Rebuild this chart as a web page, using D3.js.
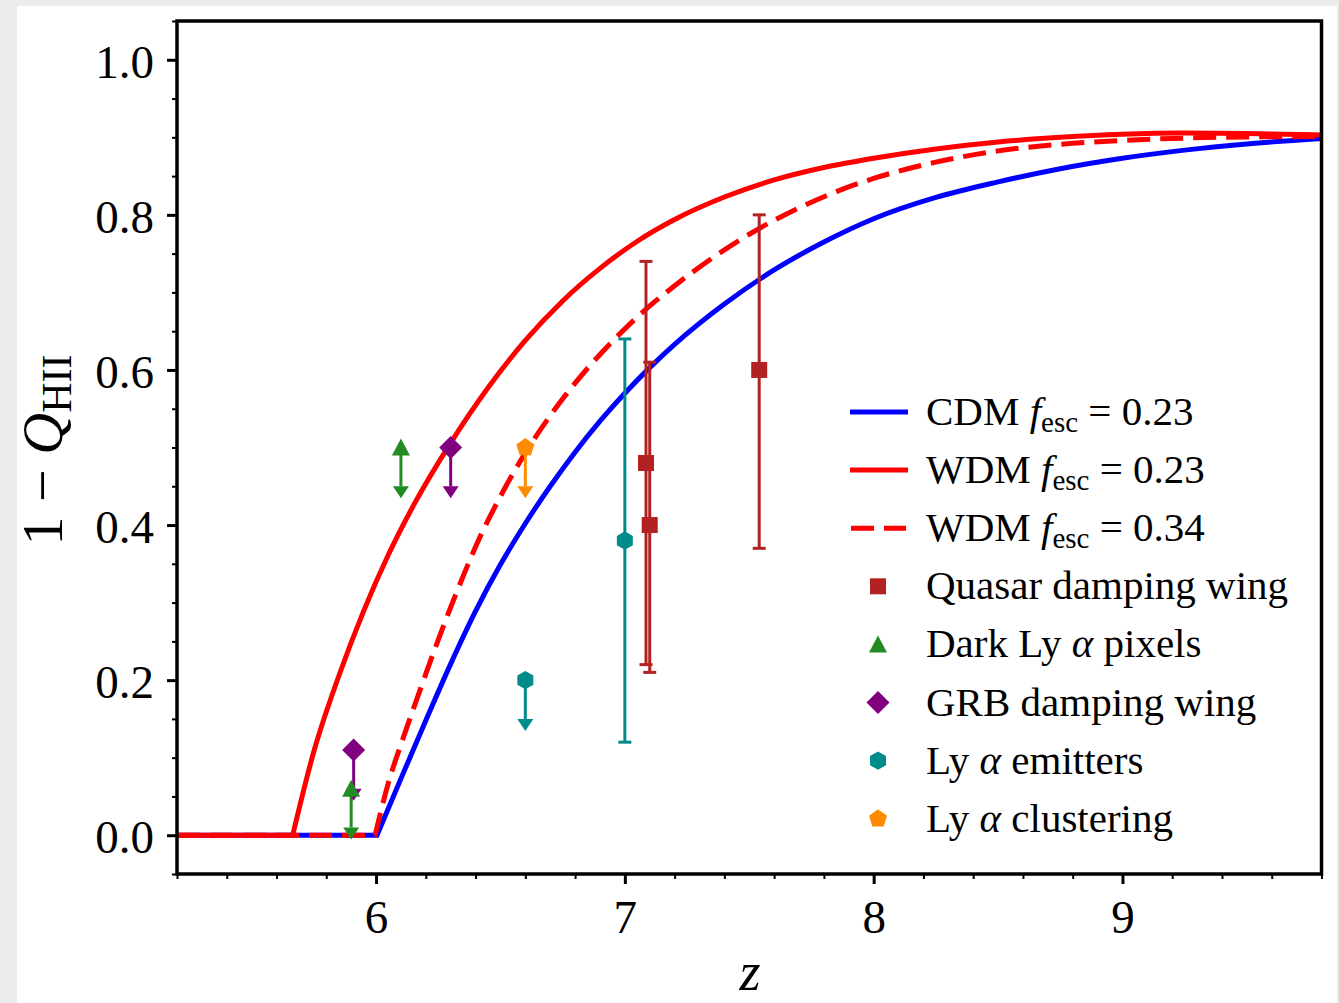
<!DOCTYPE html>
<html><head><meta charset="utf-8">
<script src="https://cdn.jsdelivr.net/npm/d3@7"></script>
<style>
html,body{margin:0;padding:0;background:#ebebeb;}
svg{display:block;}
text{font-family:"Liberation Serif","DejaVu Serif",serif;fill:#000;}
</style></head><body>
<svg id="chart" width="1339" height="1003"></svg>
<script>
// ---- model curves (z, 1-Q_HII) ----
const cdmZ   = [5.2, 6.004, 6.1, 6.2, 6.3, 6.4, 6.5, 6.6, 6.7, 6.8, 6.9, 7.0, 7.1, 7.2, 7.4, 7.6, 7.8, 8.0, 8.25, 8.5, 8.75, 9.0, 9.25, 9.5, 9.8];
const cdmY   = [0, 0, 0.073, 0.148, 0.221, 0.289, 0.349, 0.402, 0.450, 0.494, 0.534, 0.570, 0.603, 0.633, 0.685, 0.729, 0.765, 0.795, 0.8225, 0.8425, 0.8595, 0.873, 0.8835, 0.8915, 0.8985];
const wdm23Z = [5.2, 5.665, 5.75, 5.85, 5.95, 6.05, 6.15, 6.3, 6.45, 6.6, 6.75, 6.9, 7.05, 7.2, 7.4, 7.6, 7.8, 8.0, 8.25, 8.5, 8.75, 9.0, 9.25, 9.5, 9.8];
const wdm23Y = [0, 0, 0.108, 0.205, 0.289, 0.362, 0.425, 0.506, 0.577, 0.638, 0.689, 0.731, 0.766, 0.794, 0.823, 0.845, 0.861, 0.873, 0.885, 0.894, 0.900, 0.904, 0.9055, 0.905, 0.903];
const wdm34Z = [5.2, 5.996, 6.05, 6.1, 6.15, 6.2, 6.25, 6.3, 6.35, 6.4, 6.5, 6.6, 6.7, 6.8, 6.9, 7.0, 7.1, 7.2, 7.35, 7.5, 7.7, 7.85, 8.0, 8.25, 8.5, 8.75, 9.0, 9.25, 9.5, 9.8];
const wdm34Y = [0, 0, 0.068, 0.117, 0.163, 0.208, 0.252, 0.294, 0.334, 0.372, 0.437, 0.493, 0.541, 0.583, 0.620, 0.653, 0.6825, 0.7085, 0.744, 0.775, 0.809, 0.830, 0.847, 0.868, 0.8825, 0.891, 0.896, 0.899, 0.9005, 0.901];

// ---- observational constraints ----
const quasarZ = [7.085, 7.10, 7.54];
const quasarY = [0.48, 0.40, 0.60];
const quasarLo = [0.26, 0.19, 0.23];
const quasarHi = [0.26, 0.21, 0.20];
const darkZ = [5.90, 6.10];
const darkY = [0.06, 0.50];
const grbZ = [5.91, 6.30];
const grbY = [0.11, 0.50];
const laeZ = [7.00, 6.60];
const laeY = [0.38, 0.20];
const laeLo = [0.26, null];
const laeHi = [0.26, null];
const laeUpper = [false, true];
const clusZ = [6.60];
const clusY = [0.50];
const limitLen = 0.05;

// ---- axis ticks ----
const xMajor = [6, 7, 8, 9];
const xTickLabels = ["6", "7", "8", "9"];
const yMajor = [0, 0.2, 0.4, 0.6, 0.8, 1.0];
const yTickLabels = ["0.0", "0.2", "0.4", "0.6", "0.8", "1.0"];

const svg = d3.select('#chart');
svg.append('rect').attr('x', 17).attr('y', 6).attr('width', 1320).attr('height', 1000).attr('fill', '#fff');

const L = 177, R = 1321.5, T = 21, B = 874;
const x = d3.scaleLinear().domain([5.2, 9.8]).range([L, R]);
const y = d3.scaleLinear().domain([-0.05, 1.05]).range([B, T]);

svg.append('clipPath').attr('id', 'clip').append('rect')
  .attr('x', L).attr('y', T).attr('width', R - L).attr('height', B - T);
const plot = svg.append('g').attr('clip-path', 'url(#clip)');

const C_BLUE = '#0000ff', C_RED = '#ff0000';
function drawCurve(zs, ys, color, dash) {
  const pts = zs.map((z, i) => [z, ys[i]]);
  const k = pts.findIndex(p => p[1] > 0);
  const flat = pts.slice(0, k);
  const rise = pts.slice(k - 1);
  const linL = d3.line().x(d => x(d[0])).y(d => y(d[1]));
  const monL = d3.line().x(d => x(d[0])).y(d => y(d[1])).curve(d3.curveMonotoneX);
  const path = linL(flat) + monL(rise).replace(/^M/, 'L');
  plot.append('path').attr('d', path).attr('fill', 'none').attr('stroke', color)
    .attr('stroke-width', 5).attr('stroke-dasharray', dash || null).attr('stroke-linejoin', 'miter');
}
drawCurve(cdmZ, cdmY, C_BLUE);
drawCurve(wdm23Z, wdm23Y, C_RED);
drawCurve(wdm34Z, wdm34Y, C_RED, '23,10');

// marker shapes
function poly(n, r, rot) {
  const p = [];
  for (let i = 0; i < n; i++) {
    const a = rot + i * 2 * Math.PI / n;
    p.push([r * Math.sin(a), -r * Math.cos(a)]);
  }
  return 'M' + p.map(q => q[0].toFixed(2) + ',' + q[1].toFixed(2)).join('L') + 'Z';
}
const shapes = {
  square: 'M-8,-8L8,-8L8,8L-8,8Z',
  triangle: 'M0,-9L9,8L-9,8Z',
  diamond: 'M0,-11.5L11.5,0L0,11.5L-11.5,0Z',
  hexagon: poly(6, 9.2, 0),
  pentagon: poly(5, 9.5, 0)
};
const caret = 'M-8,0L8,0L0,12Z';

const pg = svg.append('g');
function errbar(zv, yv, lo, hi, color) {
  const cx = x(zv);
  pg.append('line').attr('x1', cx).attr('x2', cx).attr('y1', y(yv - lo)).attr('y2', y(yv + hi))
    .attr('stroke', color).attr('stroke-width', 3);
  [yv - lo, yv + hi].forEach(v => pg.append('line').attr('x1', cx - 6.5).attr('x2', cx + 6.5)
    .attr('y1', y(v)).attr('y2', y(v)).attr('stroke', color).attr('stroke-width', 3));
}
function uplim(zv, yv, color) {
  const cx = x(zv);
  pg.append('line').attr('x1', cx).attr('x2', cx).attr('y1', y(yv)).attr('y2', y(yv - limitLen))
    .attr('stroke', color).attr('stroke-width', 3);
  pg.append('path').attr('d', caret).attr('transform', `translate(${cx},${y(yv - limitLen)})`).attr('fill', color);
}
function marker(zv, yv, shape, color) {
  pg.append('path').attr('d', shapes[shape]).attr('transform', `translate(${x(zv)},${y(yv)})`).attr('fill', color);
}
const C_Q = '#b22222', C_G = '#228b22', C_P = '#800080', C_T = '#008b8b', C_O = '#ff8c00';
quasarZ.forEach((z, i) => errbar(z, quasarY[i], quasarLo[i], quasarHi[i], C_Q));
darkZ.forEach((z, i) => uplim(z, darkY[i], C_G));
grbZ.forEach((z, i) => uplim(z, grbY[i], C_P));
laeZ.forEach((z, i) => laeUpper[i] ? uplim(z, laeY[i], C_T) : errbar(z, laeY[i], laeLo[i], laeHi[i], C_T));
clusZ.forEach((z, i) => uplim(z, clusY[i], C_O));
quasarZ.forEach((z, i) => marker(z, quasarY[i], 'square', C_Q));
darkZ.forEach((z, i) => marker(z, darkY[i], 'triangle', C_G));
grbZ.forEach((z, i) => marker(z, grbY[i], 'diamond', C_P));
laeZ.forEach((z, i) => marker(z, laeY[i], 'hexagon', C_T));
clusZ.forEach((z, i) => marker(z, clusY[i], 'pentagon', C_O));

// axes
const minorX = d3.range(24).map(i => +(5.2 + i * 0.2).toFixed(2)).filter(v => !xMajor.includes(v));
const minorY = d3.range(23).map(i => +(-0.05 + i * 0.05).toFixed(2)).filter(v => !yMajor.some(m => Math.abs(m - v) < 1e-6));
const gxm = svg.append('g').attr('transform', `translate(0,${B})`)
  .call(d3.axisBottom(x).tickValues(minorX).tickSize(5).tickFormat(''));
const gx = svg.append('g').attr('transform', `translate(0,${B})`)
  .call(d3.axisBottom(x).tickValues(xMajor).tickSize(10).tickPadding(16).tickFormat((d, i) => xTickLabels[i]));
const gym = svg.append('g').attr('transform', `translate(${L},0)`)
  .call(d3.axisLeft(y).tickValues(minorY).tickSize(5).tickFormat(''));
const gy = svg.append('g').attr('transform', `translate(${L},0)`)
  .call(d3.axisLeft(y).tickValues(yMajor).tickSize(10).tickPadding(13).tickFormat((d, i) => yTickLabels[i]));
[gx, gxm, gy, gym].forEach(g => { g.select('.domain').remove(); g.selectAll('line').attr('stroke', '#000'); });
[gx, gy].forEach(g => { g.selectAll('line').attr('stroke-width', 3); g.selectAll('text').attr('font-size', 47).attr('font-family', '"Liberation Serif",serif').attr('fill', '#000'); });
[gxm, gym].forEach(g => g.selectAll('line').attr('stroke-width', 2));
gy.selectAll('text').attr('dy', '0.37em');

svg.append('rect').attr('x', L).attr('y', T).attr('width', R - L).attr('height', B - T)
  .attr('fill', 'none').attr('stroke', '#000').attr('stroke-width', 3.5);

// axis labels
svg.append('text').attr('x', 750).attr('y', 990).attr('text-anchor', 'middle')
  .attr('font-size', 54).attr('font-style', 'italic').text('z');
const yl = svg.append('text').attr('transform', 'translate(62,450) rotate(-90)')
  .attr('text-anchor', 'middle').attr('font-size', 58);
yl.append('tspan').text('1 − ');
yl.append('tspan').attr('font-style', 'italic').text('Q');
yl.append('tspan').attr('font-size', 42).attr('dy', 9).text('HII');

// legend
const legendLines = [
  {name: 'CDM', fesc: '0.23', color: C_BLUE, dash: null},
  {name: 'WDM', fesc: '0.23', color: C_RED, dash: null},
  {name: 'WDM', fesc: '0.34', color: C_RED, dash: '23,10'}
];
const legendPoints = [
  {parts: [['Quasar damping wing', false]], shape: 'square', color: C_Q},
  {parts: [['Dark Ly ', false], ['α', true], [' pixels', false]], shape: 'triangle', color: C_G},
  {parts: [['GRB damping wing', false]], shape: 'diamond', color: C_P},
  {parts: [['Ly ', false], ['α', true], [' emitters', false]], shape: 'hexagon', color: C_T},
  {parts: [['Ly ', false], ['α', true], [' clustering', false]], shape: 'pentagon', color: C_O}
];
const lg = svg.append('g');
const row0 = 412, rowH = 58.1, lx0 = 850, lx1 = 908, tx = 926;
legendLines.forEach((d, i) => {
  const ry = row0 + i * rowH;
  lg.append('line').attr('x1', d.dash ? 851 : lx0).attr('x2', d.dash ? 906 : lx1).attr('y1', ry).attr('y2', ry)
    .attr('stroke', d.color).attr('stroke-width', 5).attr('stroke-dasharray', d.dash);
  const t = lg.append('text').attr('x', tx).attr('y', ry + 13).attr('font-size', 41);
  t.append('tspan').text(d.name + ' ');
  t.append('tspan').attr('font-style', 'italic').text('f');
  t.append('tspan').attr('font-size', 29).attr('dy', 7).text('esc');
  t.append('tspan').attr('dy', -7).text(' = ' + d.fesc);
});
legendPoints.forEach((d, j) => {
  const ry = row0 + (j + 3) * rowH;
  lg.append('path').attr('d', shapes[d.shape]).attr('transform', `translate(878,${ry})`).attr('fill', d.color);
  const t = lg.append('text').attr('x', tx).attr('y', ry + 13).attr('font-size', 41);
  d.parts.forEach(p => t.append('tspan').attr('font-style', p[1] ? 'italic' : null).text(p[0]));
});
</script>
</body></html>
